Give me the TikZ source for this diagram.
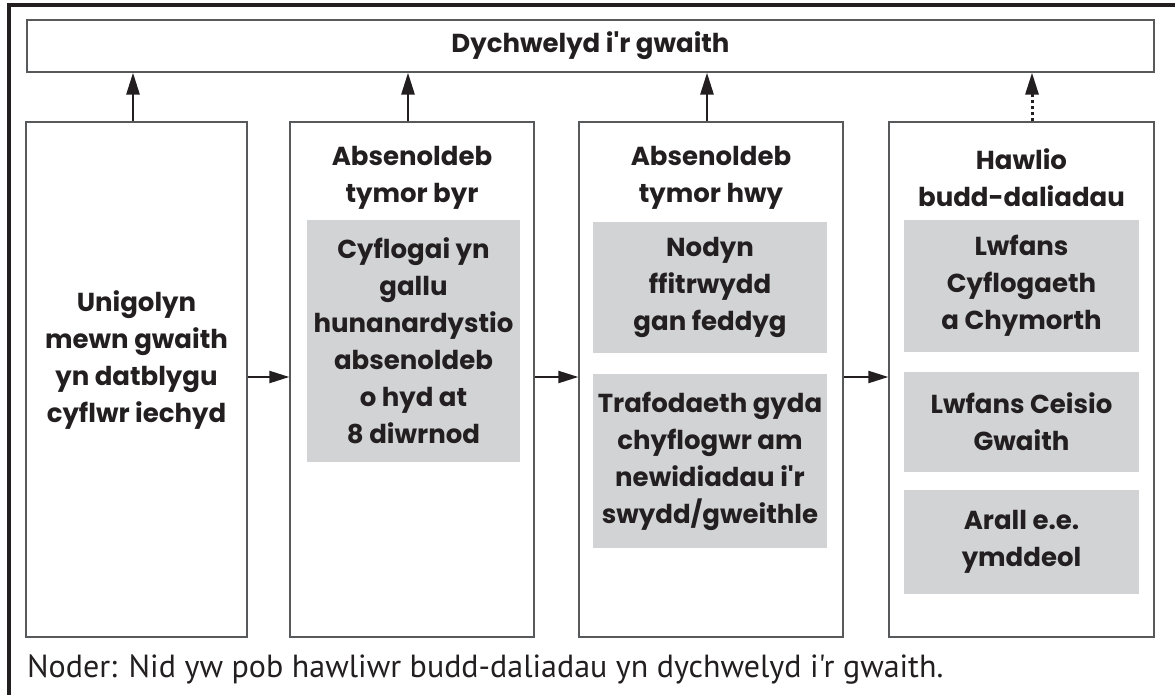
\documentclass[tikz,border=0pt]{standalone}
\usepackage{fontspec}
\setmainfont{Poppins}
\newfontfamily\notefont{PT Sans}
\usetikzlibrary{arrows.meta}
\definecolor{ink}{HTML}{231F20}
\definecolor{boxline}{HTML}{58595B}
\definecolor{shade}{HTML}{D1D3D4}
\begin{document}
\begin{tikzpicture}[x=1pt,y=-1pt,
  frame/.style={draw=boxline, line width=1.3pt, inner sep=0pt},
  panel/.style={fill=shade, inner sep=0pt, text=ink, align=center,
    font=\bfseries\fontsize{26}{37}\selectfont},
  txt/.style={text=ink, align=center, inner sep=0pt,
    font=\bfseries\fontsize{26}{37}\selectfont},
  uparrow/.style={draw=ink, line width=2.8pt, -{Triangle[length=22pt,width=13pt]}},
  fwdarrow/.style={draw=ink, line width=2.2pt, -{Triangle[length=20pt,width=12pt]}},
  dotarrow/.style={draw=ink, line width=3pt, dash pattern=on 3pt off 3pt, -{Triangle[length=22pt,width=13pt]}},
]
\useasboundingbox (0,0) rectangle (1175,695);
% outer frame
\draw[ink, line width=4pt] (9,695) -- (9,5) -- (1175,5);
% top box
\node[frame, minimum width=1127pt, minimum height=52pt] (top) at (590.5,46) {};
\node[txt] (toptxt) at (590.5,46) {Dychwelyd i\textquotesingle r gwaith};
% column boxes
\node[frame, minimum width=221pt, minimum height=515pt] (b1) at (136.5,379.5) {};
\node[frame, minimum width=244pt, minimum height=515pt] (b2) at (412,379.5) {};
\node[frame, minimum width=264pt, minimum height=515pt] (b3) at (711,379.5) {};
\node[frame, minimum width=265pt, minimum height=515pt] (b4) at (1021.5,379.5) {};
% texts
\node[txt] (t1) at (136.5,360) {Unigolyn\\mewn gwaith\\yn datblygu\\cyflwr iechyd};
\node[txt] (h2) at (412,178) {Absenoldeb\\tymor byr};
\node[txt] (h3) at (711,178) {Absenoldeb\\tymor hwy};
\node[txt] (h4) at (1021.5,178) {Hawlio\\budd-daliadau};
% panels
\node[panel, minimum width=213pt, minimum height=242pt] (g2) at (413.5,341)
  {Cyflogai yn\\gallu\\hunanardystio\\absenoldeb\\o hyd at\\8 diwrnod};
\node[panel, minimum width=234pt, minimum height=131pt] (g3a) at (710,287.5)
  {Nodyn\\ffitrwydd\\gan feddyg};
\node[panel, minimum width=234pt, minimum height=174pt] (g3b) at (710,461)
  {Trafodaeth gyda\\chyflogwr am\\newidiadau i\textquotesingle r\\swydd/gweithle};
\node[panel, minimum width=235pt, minimum height=132pt] (g4a) at (1021.5,286)
  {Lwfans\\Cyflogaeth\\a Chymorth};
\node[panel, minimum width=235pt, minimum height=100pt] (g4b) at (1021.5,422)
  {Lwfans Ceisio\\Gwaith};
\node[panel, minimum width=235pt, minimum height=104pt] (g4c) at (1021.5,542)
  {Arall e.e.\\ymddeol};
% up arrows
\draw[uparrow] ([xshift=-3.5pt]b1.north) -- ([xshift=-3.5pt]b1.north |- top.south);
\draw[uparrow] ([xshift=-4pt]b2.north) -- ([xshift=-4pt]b2.north |- top.south);
\draw[uparrow] ([xshift=-4pt]b3.north) -- ([xshift=-4pt]b3.north |- top.south);
\draw[dotarrow] ([xshift=10.5pt]b4.north) -- ([xshift=10.5pt]b4.north |- top.south);
% forward arrows
\draw[fwdarrow] ([yshift=2.5pt]b1.east) -- ([yshift=2.5pt]b2.west);
\draw[fwdarrow] ([yshift=2.5pt]b2.east) -- ([yshift=2.5pt]b3.west);
\draw[fwdarrow] ([yshift=2.5pt]b3.east) -- ([yshift=2.5pt]b4.west);
% note
\node[anchor=base west, inner sep=0pt, text=ink, font=\notefont\fontsize{32}{36}\selectfont] (note) at (27,677)
  {Noder: Nid yw pob hawliwr budd-daliadau yn dychwelyd i'r gwaith.};
\end{tikzpicture}
\end{document}
